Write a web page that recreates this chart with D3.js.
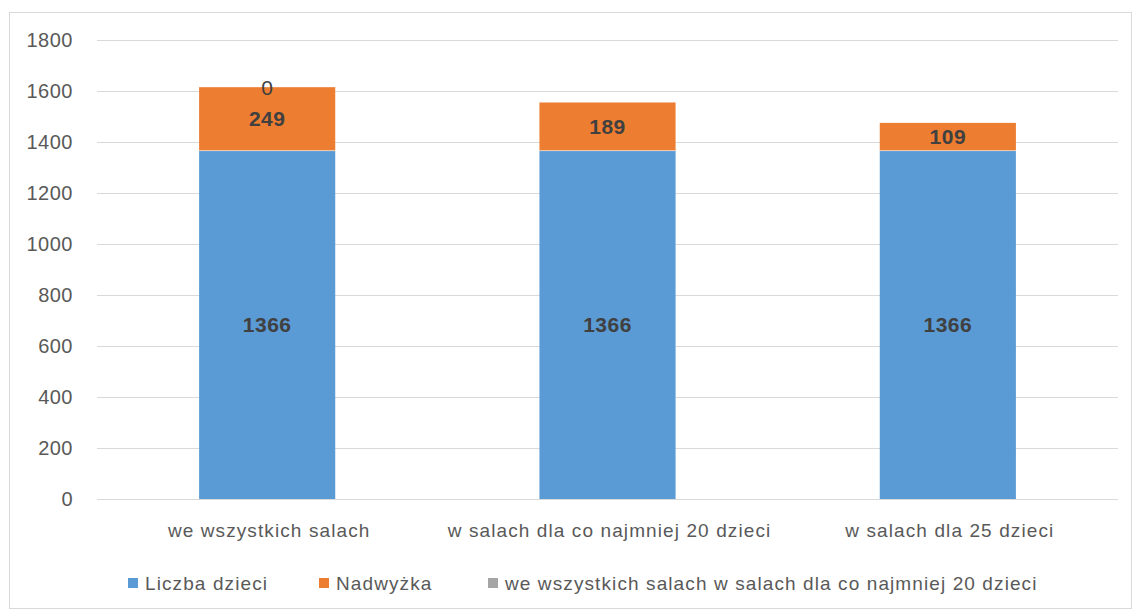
<!DOCTYPE html>
<html><head><meta charset="utf-8">
<script src="https://cdn.jsdelivr.net/npm/d3@7"></script>
<style>body{margin:0;background:#fff}text{font-family:"Liberation Sans",Arial,sans-serif}</style>
</head><body><svg id="c" width="1134" height="613"></svg>
<script>
const categories = ["we wszystkich salach", "w salach dla co najmniej 20 dzieci", "w salach dla 25 dzieci"];
const liczbaDzieci = [1366, 1366, 1366];
const nadwyzka = [249, 189, 109];
const trzecia = [0, null, null];
const seriesNames = ["Liczba dzieci", "Nadwyżka", "we wszystkich salach w salach dla co najmniej 20 dzieci"];
const yTicks = [0, 200, 400, 600, 800, 1000, 1200, 1400, 1600, 1800];

const colors = ["#5B9BD5", "#ED7D31", "#A5A5A5"];
const svg = d3.select("#c");
svg.append("rect").attr("x", 9.5).attr("y", 12.5).attr("width", 1122).attr("height", 596)
  .attr("fill", "#fff").attr("stroke", "#D9D9D9");

const x = d3.scaleBand().domain(categories).range([97, 1118]).padding(0);
const y = d3.scaleLinear().domain([0, 1800]).range([499, 40]);

// grid
svg.append("g").selectAll("line").data(yTicks).join("line")
  .attr("x1", 97).attr("x2", 1118).attr("y1", d => Math.round(y(d)) + 0.5).attr("y2", d => Math.round(y(d)) + 0.5)
  .attr("stroke", "#D9D9D9").attr("stroke-width", 1);

// y axis labels
const yAxis = d3.axisLeft(y).tickValues(yTicks).tickFormat(d3.format("d")).tickSize(0).tickPadding(0);
const gy = svg.append("g").attr("transform", "translate(73,0)").call(yAxis);
gy.select(".domain").remove();
gy.selectAll("text").attr("font-size", 20).attr("fill", "#595959").attr("letter-spacing", 0.5)
  .style("font-family", "Liberation Sans, Arial, sans-serif");

// stacked data
const rows = categories.map((c, i) => ({ cat: c, s0: liczbaDzieci[i], s1: nadwyzka[i], s2: trzecia[i] == null ? 0 : trzecia[i] }));
const stack = d3.stack().keys(["s0", "s1", "s2"])(rows);
const barW = x.bandwidth() * 0.4;

stack.forEach((layer, li) => {
  svg.append("g").selectAll("rect").data(layer).join("rect")
    .attr("x", d => x(d.data.cat) + (x.bandwidth() - barW) / 2)
    .attr("width", barW)
    .attr("y", d => y(d[1]))
    .attr("height", d => y(d[0]) - y(d[1]))
    .attr("fill", colors[li]);
});
svg.append("g").selectAll("line").data(stack[0]).join("line")
  .attr("x1", d => x(d.data.cat) + (x.bandwidth() - barW) / 2)
  .attr("x2", d => x(d.data.cat) + (x.bandwidth() + barW) / 2)
  .attr("y1", d => y(d[1])).attr("y2", d => y(d[1]))
  .attr("stroke", "#fff").attr("stroke-opacity", 0.5).attr("stroke-width", 1);

// x-axis baseline
svg.append("line").attr("x1", 97).attr("x2", 1118).attr("y1", 499.5).attr("y2", 499.5)
  .attr("stroke", "#D9D9D9").attr("stroke-width", 1.2);

// x labels
const xAxis = d3.axisBottom(x).tickSize(0).tickPadding(0);
const gx = svg.append("g").attr("transform", "translate(0,537)").call(xAxis);
gx.select(".domain").remove();
gx.selectAll("text").attr("font-size", 19).attr("fill", "#595959").attr("dy", 0).attr("letter-spacing", 1.1)
  .attr("dx", 2)
  .style("font-family", "Liberation Sans, Arial, sans-serif");

// data labels
const lbl = svg.append("g").attr("text-anchor", "middle").attr("fill", "#404040");
stack[0].forEach(d => {
  lbl.append("text").attr("x", x(d.data.cat) + x.bandwidth() / 2).attr("y", (y(d[0]) + y(d[1])) / 2)
    .attr("dy", "0.35em").attr("font-size", 21).attr("font-weight", "bold").attr("letter-spacing", 0.5).text(d.data.s0);
});
stack[1].forEach(d => {
  lbl.append("text").attr("x", x(d.data.cat) + x.bandwidth() / 2).attr("y", (y(d[0]) + y(d[1])) / 2)
    .attr("dy", "0.35em").attr("font-size", 21).attr("font-weight", "bold").attr("letter-spacing", 0.5).text(d.data.s1);
});
stack[2].forEach((d, i) => {
  if (trzecia[i] == null) return;
  lbl.append("text").attr("x", x(d.data.cat) + x.bandwidth() / 2).attr("y", y(d[1]))
    .attr("dy", "0.35em").attr("font-size", 21).attr("fill", "#404040").text(trzecia[i]);
});

// legend
const legendX = [128, 319, 488];
const lg = svg.append("g");
seriesNames.forEach((n, i) => {
  lg.append("rect").attr("x", legendX[i]).attr("y", 578).attr("width", 10).attr("height", 10).attr("fill", colors[i]);
  lg.append("text").attr("x", legendX[i] + 17).attr("y", 583).attr("dy", "0.35em")
    .attr("font-size", 19).attr("fill", "#595959").attr("letter-spacing", 1.1).text(n);
});
</script></body></html>
